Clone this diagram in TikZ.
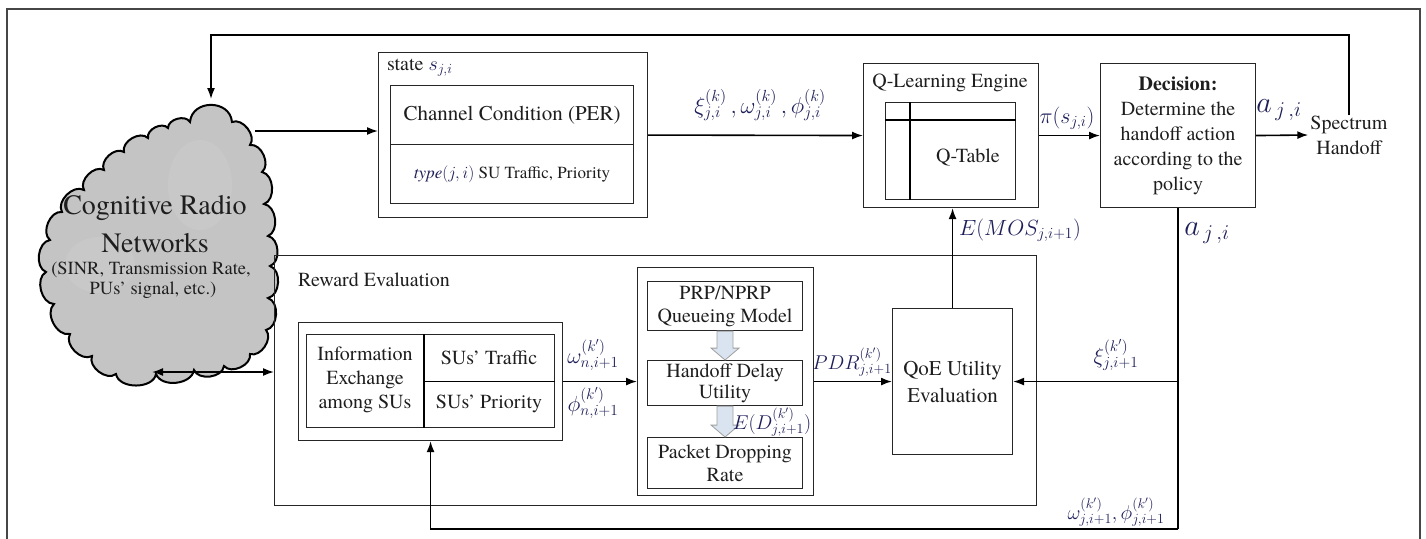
\documentclass[tikz,border=0pt]{standalone}
\usepackage{fix-cm}
\usepackage{fontspec}
\IfFontExistsTF{TeX Gyre Termes}{\setmainfont{TeX Gyre Termes}}{\setmainfont{Liberation Serif}}
\usetikzlibrary{arrows.meta,calc}
\definecolor{mathc}{RGB}{30,30,90}
\definecolor{cloudg}{RGB}{196,196,196}
\definecolor{barrow}{RGB}{218,228,240}
\definecolor{frameg}{RGB}{70,70,70}
\definecolor{txtc}{RGB}{30,30,30}
\begin{document}
\begin{tikzpicture}[x=1pt,y=-1pt, font=\rmfamily,
  box/.style={draw=black!85, line width=1.1pt, inner sep=0pt, anchor=north west, align=center, text=txtc},
  conn/.style={line width=1.6pt, -{Latex[length=11pt,width=8pt]}},
  dconn/.style={line width=1.6pt, {Latex[length=11pt,width=8pt]}-{Latex[length=11pt,width=8pt]}},
  plain/.style={line width=1.6pt},
  lbl/.style={text=mathc, inner sep=0pt},
  txt/.style={font=\rmfamily\fontsize{20}{24}\selectfont, align=center, inner sep=0pt, text=txtc},
  barr/.style={fill=barrow, draw=gray!75, line width=0.8pt},
  bump/.style={bend left=75}
]
\useasboundingbox (0,0) rectangle (1426,538);
% outer frame
\draw[frameg, line width=1.5pt] (7,545) -- (7,9) -- (1420,9) -- (1420,545);

% cloud
\def\cloudpath{(190,122) to[bend left=85, looseness=1.4] (232,122) to[bump] (250,145) to[bump] (262,172) to[bump] (264,204) to[bump] (268,236) to[bump] (270,266) to[bump] (268,298) to[bump] (266,330) to[bump] (250,354) to[bump] (224,366) to[bump] (194,370) to[bump] (156,374) to[bend left=80] (116,374) to[bump] (92,356) to[bump] (70,334) to[bump] (54,304) to[bump] (46,272) to[bump] (50,240) to[bump] (62,212) to[bump] (84,190) to[bump] (104,170) to[bump] (124,152) to[bump] (148,138) to[bump] (168,128) to[bump] (190,122) -- cycle}
\fill[cloudg] \cloudpath;
\begin{scope}
  \clip \cloudpath;
  \fill[white, opacity=0.08] (200,185) ellipse (32pt and 45pt);
  \fill[white, opacity=0.08] (100,265) ellipse (35pt and 28pt);
\end{scope}
\draw[black, line width=2pt] \cloudpath;
\coordinate (ctop) at (211,99);
\coordinate (cR) at (255,131);
\coordinate (cB) at (152,372);
\coordinate (topY) at (211,35);
\node[txt, font=\rmfamily\fontsize{28}{32}\selectfont] (cl1) at (155,208) {Cognitive Radio};
\node[txt, font=\rmfamily\fontsize{28}{32}\selectfont] (cl2) at (155,243) {Networks};
\node[txt, font=\rmfamily\fontsize{18.5}{21}\selectfont] (cl3) at (151,270) {(SINR, Transmission Rate,};
\node[txt, font=\rmfamily\fontsize{18.5}{21}\selectfont] (cl4) at (153,290) {PUs' signal, etc.)};

% state box
\node[box, minimum width=269pt, minimum height=165pt] (stateO) at (378,52) {};
\node[txt, anchor=west] (stlbl) at (387,68) {state {\color{mathc}$s_{j,i}$}};
\node[box, minimum width=243pt, minimum height=59pt, font=\rmfamily\fontsize{21}{24}\selectfont] (chan) at (390,85) {Channel Condition (PER)};
\node[box, minimum width=243pt, minimum height=59pt, font=\rmfamily\fontsize{17}{20}\selectfont] (typ) at (390,144) {{\color{mathc}$\mathit{type}(j,i)$} SU Traffic, Priority};

% Q-learning
\node[box, minimum width=175pt, minimum height=144pt] (qO) at (863,63) {};
\node[txt] (qlbl) at (950,83) {Q-Learning Engine};
\node[box, minimum width=130pt, minimum height=97pt] (qt) at (885,102) {};
\draw[line width=1.1pt] ($(qt.north west)+(0,18)$) -- ($(qt.north east)+(0,18)$);
\draw[line width=1.1pt] ($(qt.north west)+(25,0)$) -- ($(qt.south west)+(25,0)$);
\node[txt] (qtl) at (968,157) {Q-Table};

% decision
\node[box, minimum width=155pt, minimum height=144pt, font=\rmfamily\fontsize{20}{25}\selectfont] (dec) at (1100,63) {\textbf{Decision:}\\Determine the\\handoff action\\according to the\\policy};
\node[txt, font=\rmfamily\fontsize{20}{25}\selectfont] (sh) at (1349,135) {Spectrum\\Handoff};

% reward evaluation
\node[box, minimum width=762pt, minimum height=250pt] (rew) at (274,255) {};
\node[txt, anchor=west] (rewl) at (298,280) {Reward Evaluation};
\node[box, minimum width=264pt, minimum height=118pt] (infoO) at (298,322) {};
\node[box, minimum width=248pt, minimum height=93pt] (infoI) at (306,334) {};
\draw[line width=1.1pt] ($(infoI.north west)+(118,0)$) -- ($(infoI.south west)+(118,0)$);
\draw[line width=1.1pt] ($(infoI.west)+(118,0)$) -- (infoI.east);
\node[txt] (infoT) at (365,380) {Information\\Exchange\\among SUs};
\node[txt] (traf) at (489,358) {SUs' Traffic};
\node[txt] (prio) at (489,404) {SUs' Priority};

\node[box, minimum width=176pt, minimum height=228pt] (prpO) at (637,267) {};
\node[box, minimum width=155pt, minimum height=49pt, font=\rmfamily\fontsize{20}{23}\selectfont] (prp1) at (647,281) {PRP/NPRP\\Queueing Model};
\node[box, minimum width=155pt, minimum height=45pt, font=\rmfamily\fontsize{20}{21}\selectfont] (hdu) at (647,360) {Handoff Delay\\Utility};
\node[box, minimum width=155pt, minimum height=51pt, font=\rmfamily\fontsize{20}{23}\selectfont] (pdr) at (647,437) {Packet Dropping\\Rate};
\draw[barr] ($(prp1.south)+(-8,0)$) -- ($(prp1.south)+(8,0)$) -- ($(prp1.south)+(8,17)$) -- ($(prp1.south)+(14,17)$) -- (hdu.north) -- ($(prp1.south)+(-14,17)$) -- ($(prp1.south)+(-8,17)$) -- cycle;
\draw[barr] ($(hdu.south)+(-8,0)$) -- ($(hdu.south)+(8,0)$) -- ($(hdu.south)+(8,19)$) -- ($(hdu.south)+(14,19)$) -- (pdr.north) -- ($(hdu.south)+(-14,19)$) -- ($(hdu.south)+(-8,19)$) -- cycle;
\node[lbl, font=\fontsize{20}{22}\selectfont] (edl) at (772,422) {$E(D^{(k')}_{j,i+1})$};

\node[box, minimum width=120pt, minimum height=146pt, font=\rmfamily\fontsize{21}{27}\selectfont] (qoe) at (892,308) {QoE Utility\\Evaluation};

% connectors
\draw[conn] (sh.north) |- (topY) -- (ctop);
\draw[conn] (cR) -- (cR -| stateO.west);
\draw[conn] (stateO.east) -- (qO.west);
\node[lbl, font=\fontsize{23}{26}\selectfont] (l1) at (760,105) {$\xi^{(k)}_{j,i}\,,\omega^{(k)}_{j,i}\,,\phi^{(k)}_{j,i}$};
\draw[conn] (qO.east) -- (dec.west);
\node[lbl, font=\fontsize{22}{24}\selectfont] (pil) at (1067,118) {$\pi(s_{j,i})$};
\draw[conn] (dec.east) -- ([xshift=-2pt]sh.west);
\node[lbl, font=\fontsize{30}{32}\selectfont] (al1) at (1279,110) {$a_{\,j\,,i}$};
\draw[conn] (qoe.north) -- (qoe.north |- qO.south);
\node[lbl, font=\fontsize{22}{24}\selectfont] (mosl) at (1020,230) {$E(MOS_{j,i+1})$};
\draw[plain] (dec.south) -- (dec.south |- 0,529) coordinate (brc);
\draw[conn] (brc) -| (infoO.south);
\node[lbl, font=\fontsize{30}{32}\selectfont] (al2) at (1207,233) {$a_{\,j\,,i}$};
\draw[conn] (dec.south |- qoe.east) -- (qoe.east);
\node[lbl, font=\fontsize{22}{24}\selectfont] (xil) at (1116,355) {$\xi^{(k')}_{j,i+1}$};
\node[lbl, font=\fontsize{20}{22}\selectfont] (wpl) at (1116,512) {$\omega^{(k')}_{j,i+1},\phi^{(k')}_{j,i+1}$};
\draw[conn] (prpO.east) -- (prpO.east -| qoe.west);
\node[lbl, font=\fontsize{20}{22}\selectfont] (pdrl) at (852,362) {$PDR^{(k')}_{j,i+1}$};
\draw[conn] (infoO.east |- prpO.west) -- (prpO.west);
\node[lbl, font=\fontsize{22}{24}\selectfont] (wnl) at (593,355) {$\omega^{(k')}_{n,i+1}$};
\node[lbl, font=\fontsize{22}{24}\selectfont] (pnl) at (593,403) {$\phi^{(k')}_{n,i+1}$};
\draw[dconn] (cB) -- (cB -| rew.west);
\end{tikzpicture}
\end{document}
